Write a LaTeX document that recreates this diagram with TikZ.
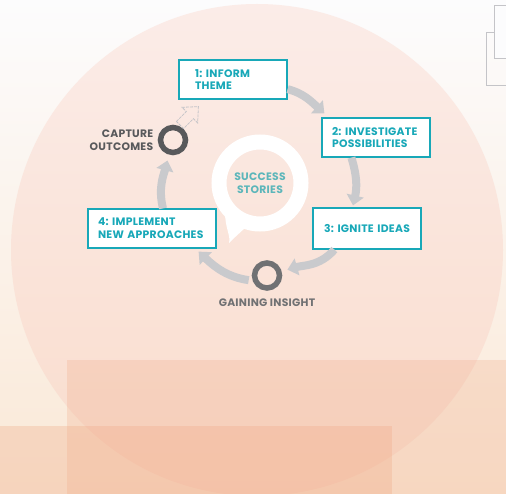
\documentclass[tikz,border=0pt]{standalone}
\usepackage{fontspec}
\setmainfont{Poppins}[BoldFont={Poppins Bold}]
\newfontfamily\labelfont{Poppins Bold}[LetterSpace=2.5]
\usetikzlibrary{positioning, arrows.meta}
\definecolor{stageteal}{RGB}{24,168,184}
\definecolor{storyteal}{RGB}{92,182,186}
\definecolor{ringgray}{RGB}{88,89,91}
\definecolor{insightgray}{RGB}{112,113,115}
\definecolor{flowgray}{RGB}{201,202,205}
\definecolor{bgtop}{RGB}{252,252,253}
\definecolor{bgbottom}{RGB}{250,232,214}
\definecolor{discpink}{RGB}{251,236,232}
\definecolor{discpeach}{RGB}{249,220,204}
\definecolor{bandpeach}{RGB}{240,168,132}
\definecolor{framegray}{RGB}{196,196,200}
\tikzset{
    x=1pt, y=-1pt, % pixel like coordinates, y going down
    >={Triangle[width=17pt,length=10pt]}, % broad arrow heads
    stage/.style={draw=stageteal, fill=white, line width=1.2pt, text=stageteal,
        font=\labelfont\fontsize{10.8}{12.8}\selectfont, align=left,
        minimum height=39pt, inner xsep=10pt, inner ysep=0pt},
    ring/.style={circle, draw=#1, line width=5.5pt, minimum size=25pt, inner sep=0pt},
    flow/.style={->, draw=flowgray, line width=8pt},
    caption/.style={font=\labelfont\fontsize{10.8}{12.8}\selectfont},
}
\begin{document}
\begin{tikzpicture}
    \useasboundingbox (0,0) rectangle (506,494);
    % backdrop
    \shade[top color=bgtop, bottom color=bgbottom] (0,0) rectangle (506,494);
    \draw[framegray, line width=0.8pt] (486,32) rectangle (512,85);
    \draw[framegray, line width=0.8pt, fill=bgtop] (494,5) rectangle (512,58);
    \shade[top color=discpink, bottom color=discpeach] (257,250) circle[radius=246];
    \fill[bandpeach, opacity=.26] (67,360) rectangle (506,494);
    \fill[bandpeach, opacity=.3] (0,426) rectangle (392,494);

    % speech bubble
    \node[circle, draw=white, line width=15pt, minimum size=82pt, align=center,
        text=storyteal, caption] (hub) at (260,183) {SUCCESS\\STORIES};
    \fill[white] (225,212) .. controls (225,228) and (231,236) .. (229,243)
        .. controls (236,236) and (242,231) .. (249,224) -- cycle;

    % stages
    \node[stage, inner xsep=16pt, text width=76pt] (box1) at (233,79.5) {1:~INFORM\\THEME};
    \node[stage, text width=88pt] (box2) at (376,137.5) {2:~INVESTIGATE\\POSSIBILITIES};
    \node[stage, text width=88pt, align=center, minimum height=41pt] (box3) at (367,228.5) {3:~IGNITE IDEAS};
    \node[stage, text width=108pt] (box4) at (152,228.5) {4:~IMPLEMENT\\NEW APPROACHES};

    % rings
    \node[ring=ringgray] (capture) at (173,140) {};
    \node[caption, text=ringgray, align=right, left=1pt of capture] (capturetext) {CAPTURE\\OUTCOMES};
    \node[ring=insightgray] (insight) at (267,275.5) {};
    \node[caption, text=insightgray, below=5pt of insight] (insighttext) {GAINING INSIGHT};

    % cycle
    \draw[flow] (box1.-10) to[out=-15, in=138] ([shift={(3,-4)}]box2.north west);
    \draw[flow] ([xshift=30pt]box2.south west) to[out=-73, in=77] ([xshift=-14pt, yshift=2pt]box3.north);
    \draw[flow, shorten >=6pt] ([xshift=22pt]box3.south west) to[out=-131, in=16] (insight);
    \draw[flow, shorten <=4pt] (insight.200) to[out=172, in=-44] ([shift={(-18,3)}]box4.south east);
    \draw[flow, shorten >=6pt] ([xshift=11pt]box4.north) to[out=104, in=-105] (capture);

    % outlined arrow towards theme
    \begin{scope}[shift={(180,125)}, rotate=45]
        \draw[framegray, line width=0.8pt, dash pattern=on 3pt off 1pt]
            (0,-5) -- (14,-5) -- (14,-11) -- (26,0) -- (14,11) -- (14,5) -- (0,5) -- cycle;
    \end{scope}
\end{tikzpicture}
\end{document}
